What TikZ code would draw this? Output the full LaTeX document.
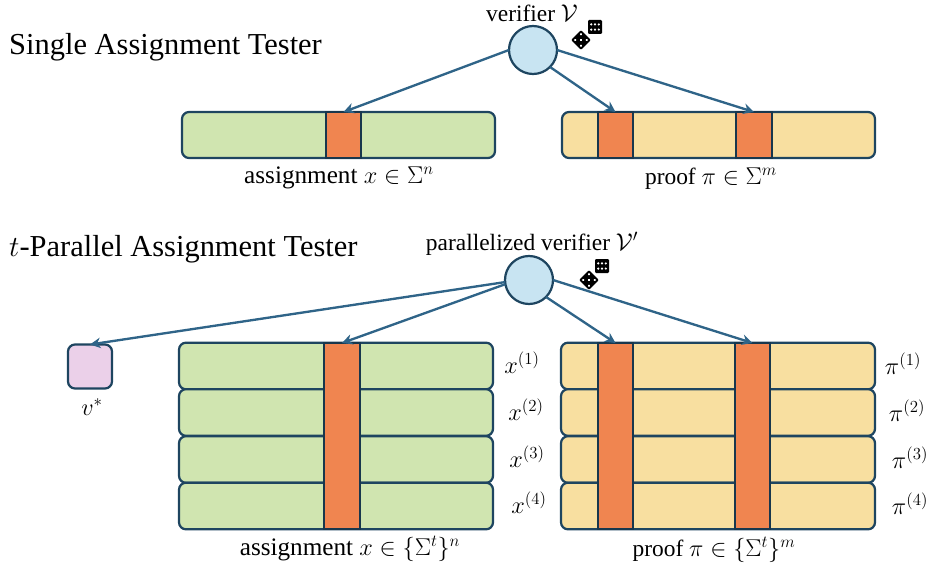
\documentclass[tikz,border=0pt]{standalone}
\usepackage{fontspec}
\setmainfont{Liberation Serif}
\usetikzlibrary{arrows.meta}
\definecolor{edgeblue}{HTML}{2F6488}
\definecolor{darkline}{HTML}{1E4560}
\definecolor{greenfill}{HTML}{D0E5B0}
\definecolor{yellowfill}{HTML}{F8DFA0}
\definecolor{orangefill}{HTML}{F08550}
\definecolor{pinkfill}{HTML}{EBD0E9}
\definecolor{bluefill}{HTML}{C8E4F2}
\tikzset{
  box/.style = {draw=darkline, line width=1.9pt, rounded corners=6pt, inner sep=0pt, outer sep=0pt},
  toprow/.style = {box, minimum width=9.39cm, minimum height=1.38cm},
  row/.style = {box, minimum width=9.42cm, minimum height=1.40cm},
  cell/.style = {draw=darkline!80!black, line width=1.9pt, fill=orangefill, inner sep=0pt, outer sep=0pt, minimum width=1.07cm},
  ver/.style = {draw=darkline, line width=1.9pt, fill=bluefill, circle, minimum size=1.44cm, inner sep=0pt, outer sep=0pt},
  link/.style = {draw=edgeblue, line width=2pt, -{Stealth[length=9pt,width=9pt]}},
  title/.style = {font=\fontsize{26}{30}\selectfont, anchor=west, inner sep=0pt},
  lab/.style = {font=\fontsize{20}{24}\selectfont, inner sep=0pt},
  widelab/.style = {font=\fontsize{21.5}{25}\selectfont, inner sep=0pt},
  dicebody/.style = {fill=black, rounded corners=1pt},
  dicefive/.pic = {
    \fill[dicebody] (-7,-7) rectangle (7,7);
    \foreach \a/\b in {-1/-1,-1/1,0/0,1/-1,1/1}
      \fill[white] (4.1*\a,4.1*\b) circle (1.25);
  },
  dicesix/.pic = {
    \fill[dicebody] (-7,-7) rectangle (7,7);
    \foreach \a in {-1,0,1} \foreach \b in {-1,1}
      \fill[white] (3.8*\a,2.6*\b) circle (1.2);
  }
}
\begin{document}
\begin{tikzpicture}[x=0.03cm, y=-0.03cm]
	\useasboundingbox (0,0) rectangle (931,567);

	% single tester
	\node[title] (single) at (9,47) {Single Assignment Tester};
	\node[ver] (v) at (533,50) {};
	\node[lab] (vlabel) at (532,13) {verifier $\mathcal{V}$};
	\node[toprow, fill=greenfill] (a) at (338.5,135) {};
	\node[toprow, fill=yellowfill] (p) at (718.5,135) {};
	\node[cell, minimum height=1.38cm] (a1) at (343.5,135) {};
	\node[cell, minimum height=1.38cm] (p1) at (615.5,135) {};
	\node[cell, minimum height=1.38cm] (p2) at (754,135) {};
	\node[widelab] (alabel) at (339,178) {assignment $x\in\Sigma^n$};
	\node[lab] (plabel) at (711,179) {proof $\pi\in\Sigma^m$};
	\pic[rotate=45] at (581,40) {dicefive};
	\pic at (595,27) {dicesix};

	\draw[link] (v.west) to (a1.north);
	\draw[link] (v.-45) to (p1.north);
	\draw[link] (v.east) to (p2.north);

	% t-parallel tester
	\node[title] (parallel) at (9,249) {$t$-Parallel Assignment Tester};
	\node[ver] (w) at (529,280) {};
	\node[lab] (wlabel) at (532,244) {parallelized verifier $\mathcal{V}'$};
	\node[box, fill=pinkfill, minimum size=1.32cm] (vstar) at (90,366.5) {};
	\node[lab] (vstarlabel) at (92,407) {$v^*$};
	\foreach \n/\y/\xa/\xb in {1/366/522/903, 2/412.5/526/907, 3/459.5/527/910, 4/506/529/910} {
		\node[row, fill=greenfill] (x\n) at (336,\y) {};
		\node[row, fill=yellowfill] (pi\n) at (718,\y) {};
		\node[lab] (xlabel\n) at (\xa,\y-3) {$x^{(\n)}$};
		\node[lab] (pilabel\n) at (\xb,\y-2) {$\pi^{(\n)}$};
	}
	\node[cell, minimum height=5.58cm] (c1) at (342,436) {};
	\node[cell, minimum height=5.58cm] (c2) at (615.5,436) {};
	\node[cell, minimum height=5.58cm] (c3) at (752.5,436) {};
	\node[widelab] (xlabel) at (350,549) {assignment $x\in\{\Sigma^t\}^n$};
	\node[lab] (pilabel) at (714,550) {proof $\pi\in\{\Sigma^t\}^m$};
	\pic[rotate=45] at (589,280) {dicefive};
	\pic at (602,266) {dicesix};

	\draw[link] (w.185) to (vstar.north);
	\draw[link] (w.190) to (c1.north);
	\draw[link] (w.-45) to (c2.north);
	\draw[link] (w.east) to (c3.north);
\end{tikzpicture}
\end{document}
